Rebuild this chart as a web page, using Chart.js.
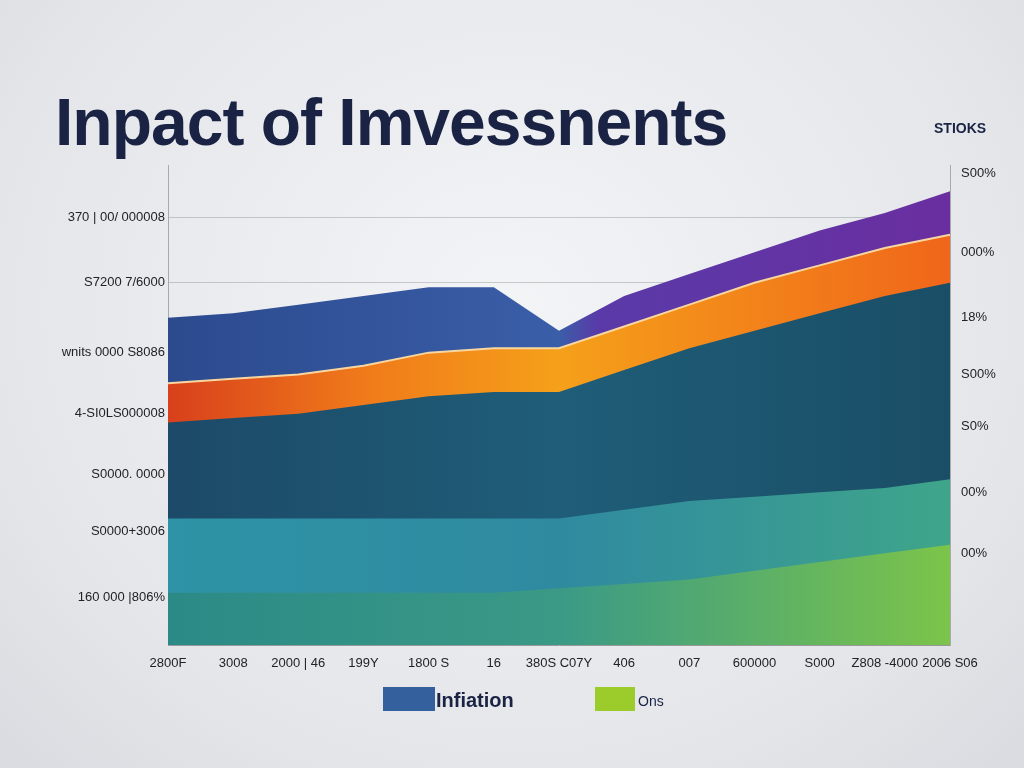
<!DOCTYPE html>
<html><head><meta charset="utf-8">
<script src="https://cdn.jsdelivr.net/npm/chart.js@4"></script>
<style>
html,body{margin:0;padding:0;}
body{width:1024px;height:768px;position:relative;overflow:hidden;background:radial-gradient(ellipse at 50% 40%,#f3f4f6 0%,#e4e6ea 70%,#d9dbe0 100%);font-family:"Liberation Sans",Arial,sans-serif;}
#c{position:absolute;left:0;top:0;}
#title{position:absolute;left:55px;top:84px;font-size:66px;font-weight:bold;color:#1b2344;letter-spacing:-1px;}
#stk{position:absolute;left:934px;top:120px;font-size:14px;font-weight:bold;color:#1b2344;}
.lg{position:absolute;top:687px;height:24px;}
.lt{position:absolute;top:689px;font-size:20px;font-weight:bold;color:#1b2344;}
</style></head><body>
<canvas id="c" width="1024" height="768"></canvas>
<div id="title">Inpact of Imvessnents</div>
<div id="stk">STIOKS</div>
<div class="lg" style="left:383px;width:52px;background:#35609e"></div>
<div class="lt" style="left:436px">Infiation</div>
<div class="lg" style="left:595px;width:40px;background:#9ccb2c"></div>
<div class="lt" style="left:638px;font-size:14px;top:693px;font-weight:normal">Ons</div>
<script>
const categories=["2800F","3008","2000 | 46","199Y","1800 S","16","380S C07Y","406","007","600000","S000","Z808 -4000","2006 S06"];
const greenVals=[12,12,12,12,12,12,13,14,15,17,19,21,23];
const tealVals=[17,17,17,17,17,17,16,17,18,17,16,15,15];
const darkVals=[22,23,24,26,28,29,29,32,35,38,41,44,45];
const orangeVals=[9,9,9,9,10,10,10,10,10,11,11,11,11];
const topVals=[15,15,16,16,15,14,4,7,7,7,8,8,10];
const leftTicks=[98,83,67,53,39,26,11];
const leftLabels=["370 | 00/ 000008","S7200 7/6000","wnits 0000 S8086","4-SI0LS000008","S0000. 0000","S0000+3006","160 000 |806%"];
const rightTicks=[108,90,75,62,50,35,21];
const rightLabels=["S00%","000%","18%","S00%","S0%","00%","00%"];
function grad(ctx,stops){const a=ctx.chart.chartArea;if(!a)return stops[0][1];const g=ctx.chart.ctx.createLinearGradient(a.left,0,a.right,0);stops.forEach(s=>g.addColorStop(s[0],s[1]));return g;}
function ds(label,data,stops,border){return{label,data,fill:true,tension:0,pointRadius:0,borderWidth:border?2:0,borderColor:border||'transparent',backgroundColor:c=>grad(c,stops)};}
new Chart(document.getElementById('c'),{type:'line',
data:{labels:categories,datasets:[
ds('g',greenVals,[[0,'#2b8a86'],[0.5,'#3a9a86'],[1,'#7cc44a']]),
ds('t',tealVals,[[0,'#2e93a6'],[0.5,'#2f8aa0'],[1,'#3fa58a']]),
ds('d',darkVals,[[0,'#1c4a68'],[0.5,'#1f5d78'],[1,'#1a4e66']]),
ds('o',orangeVals,[[0,'#d8401c'],[0.25,'#f07a1a'],[0.5,'#f5a01a'],[1,'#f0661a']],'#f8d6a0'),
ds('b',topVals,[[0,'#2c4a8e'],[0.5,'#3a5ea8'],[0.55,'#5a3aa8'],[1,'#6a2ea0']])
]},
options:{animation:false,responsive:false,
layout:{padding:{top:165,bottom:93,left:0,right:0}},
plugins:{legend:{display:false},tooltip:{enabled:false}},
scales:{
x:{stacked:true,offset:false,grid:{display:false},border:{color:'#999'},afterFit:s=>{s.height=30;},
ticks:{color:'#222',font:{size:13},maxRotation:0,autoSkip:false}},
y:{stacked:true,min:0,max:110,afterFit:s=>{s.width=168;},
afterBuildTicks:s=>{s.ticks=leftTicks.map(v=>({value:v}));},
ticks:{color:'#222',font:{size:13},callback:(v,i)=>leftLabels[i]},
grid:{color:'rgba(120,120,120,0.35)',drawTicks:false},border:{color:'#aaa'}},
y1:{position:'right',min:0,max:110,afterFit:s=>{s.width=74;},
afterBuildTicks:s=>{s.ticks=rightTicks.map(v=>({value:v}));},
ticks:{color:'#222',font:{size:13},callback:(v,i)=>rightLabels[i]},
grid:{display:false},border:{color:'#aaa'}}
}}});
</script></body></html>
